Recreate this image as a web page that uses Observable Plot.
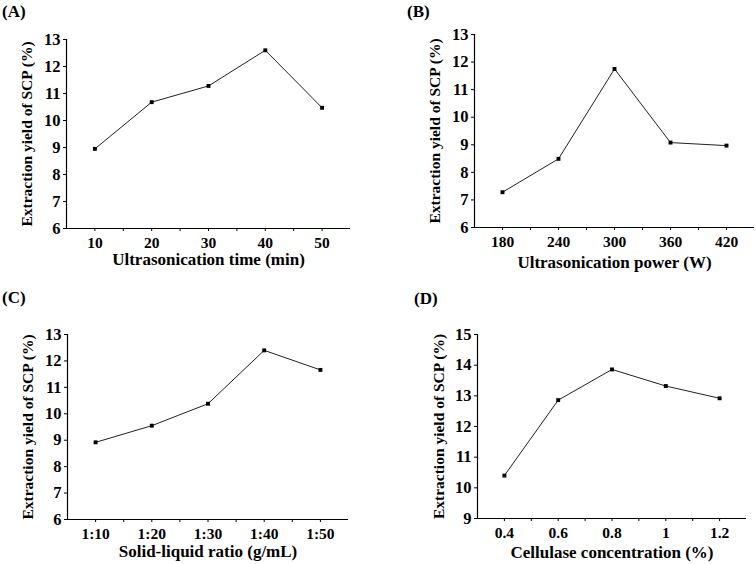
<!DOCTYPE html>
<html>
<head>
<meta charset="utf-8">
<script src="https://cdn.jsdelivr.net/npm/d3@7"></script>
<script src="https://cdn.jsdelivr.net/npm/@observablehq/plot@0.6"></script>
<style>
  html, body { margin: 0; padding: 0; background: #fff; }
  #wrap { position: relative; width: 756px; height: 564px; background: #fff; font-family: "Liberation Serif", "Times New Roman", serif; font-weight: bold; }
  .panel { position: absolute; }
  svg.panel text { font-weight: bold !important; fill: #000; font-family: "Liberation Serif", "Times New Roman", serif; }
  svg.panel g[aria-label="y-axis tick label"] text { font-size: 16.5px !important; }
  svg.panel g[aria-label="x-axis tick label"] text { font-size: 15.5px !important; }
  .tag { position: absolute; font-size: 17px; font-weight: bold; color: #000; line-height: 1; }
</style>
</head>
<body>
<div id="wrap"></div>
<script>
// ---- data ----
const yTitle = "Extraction yield of SCP (%)";

const timeX = [10, 20, 30, 40, 50];
const timeY = [8.95, 10.68, 11.28, 12.6, 10.47];
const timeTicks = [10, 20, 30, 40, 50];
const timeMinor = [15, 25, 35, 45];
const timeTitle = "Ultrasonication time (min)";

const powerX = [180, 240, 300, 360, 420];
const powerY = [7.28, 8.49, 11.75, 9.08, 8.97];
const powerTicks = [180, 240, 300, 360, 420];
const powerMinor = [210, 270, 330, 390];
const powerTitle = "Ultrasonication power (W)";

const ratioX = [10, 20, 30, 40, 50];
const ratioLabels = ["1:10", "1:20", "1:30", "1:40", "1:50"];
const ratioY = [8.92, 9.55, 10.38, 12.4, 11.66];
const ratioMinor = [15, 25, 35, 45];
const ratioTitle = "Solid-liquid ratio (g/mL)";

const cellX = [0.4, 0.6, 0.8, 1.0, 1.2];
const cellY = [10.4, 12.86, 13.86, 13.32, 12.92];
const cellTicks = [0.4, 0.6, 0.8, 1.0, 1.2];
const cellMinor = [0.5, 0.7, 0.9, 1.1];
const cellTitle = "Cellulase concentration (%)";

const yTicksABC = [6, 7, 8, 9, 10, 11, 12, 13];
const yTicksD = [9, 10, 11, 12, 13, 14, 15];

// ---- layout ----
const panels = [
  {tag: "(A)", left: 0, top: 0, tagX: 2, tagY: 3,
   m: [39, 28, 54, 66], xd: [5, 55], yd: [6, 13], xs: timeX, ys: timeY,
   ticks: timeTicks, minor: timeMinor, fmt: d => String(d), yt: yTicksABC, xTitle: timeTitle, xdy: 36, ydx: -39},
  {tag: "(B)", left: 378, top: 0, tagX: 407, tagY: 3,
   m: [34, 2, 55, 96], xd: [150, 450], yd: [6, 13], xs: powerX, ys: powerY,
   ticks: powerTicks, minor: powerMinor, fmt: d => String(d), yt: yTicksABC, xTitle: powerTitle, xdy: 40, ydx: -39},
  {tag: "(C)", left: 0, top: 282, tagX: 2, tagY: 289,
   m: [52, 30, 45, 67], xd: [5, 55], yd: [6, 13], xs: ratioX, ys: ratioY,
   ticks: ratioX, minor: ratioMinor, fmt: d => ratioLabels[ratioX.indexOf(d)], yt: yTicksABC, xTitle: ratioTitle, xdy: 37, ydx: -39},
  {tag: "(D)", left: 378, top: 282, tagX: 414, tagY: 290,
   m: [52, 10, 46, 99], xd: [0.3, 1.3], yd: [9, 15], xs: cellX, ys: cellY,
   ticks: cellTicks, minor: cellMinor, fmt: d => String(+d.toFixed(1)), yt: yTicksD, xTitle: cellTitle, xdy: 39, ydx: -38}
];

const wrap = document.getElementById("wrap");

for (const p of panels) {
  const data = p.xs.map((x, i) => ({x, y: p.ys[i]}));
  const svg = Plot.plot({
    width: 378,
    height: 282,
    marginTop: p.m[0], marginRight: p.m[1], marginBottom: p.m[2], marginLeft: p.m[3],
    style: {fontFamily: "'Liberation Serif', 'Times New Roman', serif", fontWeight: "bold", color: "#000", background: "transparent", overflow: "visible"},
    x: {domain: p.xd},
    y: {domain: p.yd},
    marks: [
      Plot.ruleX([p.xd[0]], {stroke: "#000", strokeWidth: 1.2}),
      Plot.ruleY([p.yd[0]], {stroke: "#000", strokeWidth: 1.2}),
      Plot.axisY({ticks: p.yt, tickSize: 3, tickPadding: 3, fontSize: 16.5, fontWeight: "bold", label: null, tickFormat: d => String(d), stroke: "#000", strokeWidth: 1}),
      Plot.axisX({ticks: p.ticks, tickSize: 3, tickPadding: 5, fontSize: 15.5, fontWeight: "bold", label: null, tickFormat: p.fmt, stroke: "#000", strokeWidth: 1}),
      Plot.axisX({ticks: p.minor, tickSize: 3, tickFormat: () => "", label: null, stroke: "#000", strokeWidth: 1}),
      Plot.line(data, {x: "x", y: "y", stroke: "#222", strokeWidth: 1}),
      Plot.dot(data, {x: "x", y: "y", symbol: "square", r: 2.2, fill: "#000", stroke: "none"}),
      Plot.text([p.xTitle], {frameAnchor: "bottom", dy: p.xdy, text: d => d, fontSize: 17, fontWeight: "bold", textAnchor: "middle", lineAnchor: "bottom", fill: "#000"}),
      Plot.text([yTitle], {frameAnchor: "left", dx: p.ydx, rotate: -90, text: d => d, fontSize: 15.5, fontWeight: "bold", textAnchor: "middle", lineAnchor: "middle", fill: "#000"})
    ]
  });
  svg.classList.add("panel");
  svg.style.left = p.left + "px";
  svg.style.top = p.top + "px";
  svg.style.position = "absolute";
  wrap.appendChild(svg);

  const t = document.createElement("div");
  t.className = "tag";
  t.textContent = p.tag;
  t.style.left = p.tagX + "px";
  t.style.top = p.tagY + "px";
  wrap.appendChild(t);
}
</script>
</body>
</html>
